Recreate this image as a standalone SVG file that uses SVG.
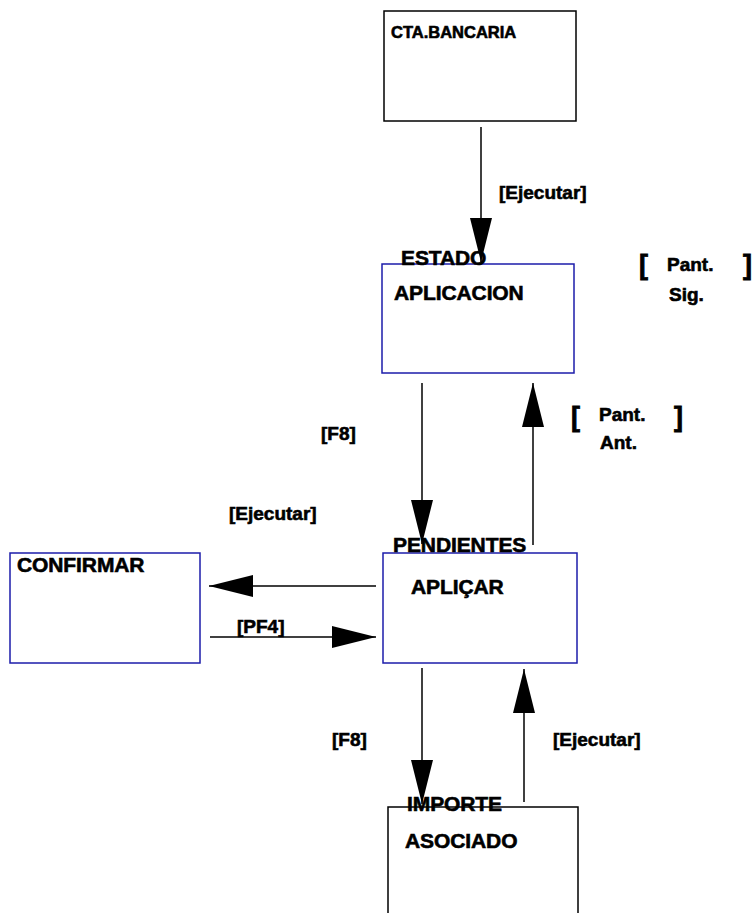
<svg xmlns="http://www.w3.org/2000/svg" width="754" height="913" viewBox="0 0 754 913">
<style>
text{font-family:"Liberation Sans",Arial,sans-serif;font-weight:bold;fill:#000;stroke:#000;stroke-width:0.6}
.t{font-size:21px;letter-spacing:-0.1px}
.s{font-size:16.5px;letter-spacing:0px}
.l{font-size:19px;letter-spacing:0px}
.b{font-size:27px;stroke-width:0.8}
.bk{fill:#fff;stroke:#000;stroke-width:1.5}
.bl{fill:#fff;stroke:#1c1caa;stroke-width:1.5}
.c line{stroke:#000;stroke-width:1.5}
</style>
<defs>
<marker id="ah" markerUnits="userSpaceOnUse" markerWidth="46" markerHeight="22" refX="44" refY="11" orient="auto">
<path d="M0,0 L44,11 L0,22 z" fill="#000"/>
</marker>
</defs>
<rect width="754" height="913" fill="#fff"/>
<g id="n-cta">
<rect class="bk" x="384" y="11" width="192" height="110"/>
<text class="s" x="391" y="38">CTA.BANCARIA</text>
</g>
<g id="n-estado">
<rect class="bl" x="382" y="264" width="192" height="109"/>
<text class="t" x="401" y="265">ESTADO</text>
<text class="t" x="394" y="300">APLICACION</text>
</g>
<g id="n-pend">
<rect class="bl" x="383" y="553" width="194" height="110"/>
<text class="t" x="393" y="552">PENDIENTES</text>
<text class="t" x="411" y="594">APLIÇAR</text>
</g>
<g id="n-conf">
<rect class="bl" x="10" y="553" width="190" height="110"/>
<text class="t" x="17" y="572">CONFIRMAR</text>
</g>
<g id="n-imp">
<path class="bk" d="M388,913 L388,807 L578,807 L578,913" fill="none"/>
<text class="t" x="407" y="811">IMPORTE</text>
<text class="t" x="405" y="848">ASOCIADO</text>
</g>
<g class="c" id="connectors">
<line x1="481" y1="127" x2="481" y2="262" marker-end="url(#ah)"/>
<line x1="422" y1="383" x2="422" y2="544" marker-end="url(#ah)"/>
<line x1="533" y1="545" x2="533" y2="383" marker-end="url(#ah)"/>
<line x1="376" y1="586" x2="209" y2="586" marker-end="url(#ah)"/>
<line x1="210" y1="637" x2="376" y2="637" marker-end="url(#ah)"/>
<line x1="422" y1="668" x2="422" y2="804" marker-end="url(#ah)"/>
<line x1="524" y1="802" x2="524" y2="669" marker-end="url(#ah)"/>
</g>
<g id="labels">
<text class="l" x="499" y="199">[Ejecutar]</text>
<text class="b" x="639" y="274">[</text>
<text class="l" x="667" y="271">Pant.</text>
<text class="b" x="743" y="274">]</text>
<text class="l" x="669" y="301">Sig.</text>
<text class="l" x="321" y="440">[F8]</text>
<text class="b" x="571" y="426">[</text>
<text class="l" x="599" y="421">Pant.</text>
<text class="b" x="674" y="426">]</text>
<text class="l" x="600" y="449">Ant.</text>
<text class="l" x="229" y="520">[Ejecutar]</text>
<text class="l" x="237" y="633">[PF4]</text>
<text class="l" x="332" y="746">[F8]</text>
<text class="l" x="553" y="746">[Ejecutar]</text>
</g>
</svg>
